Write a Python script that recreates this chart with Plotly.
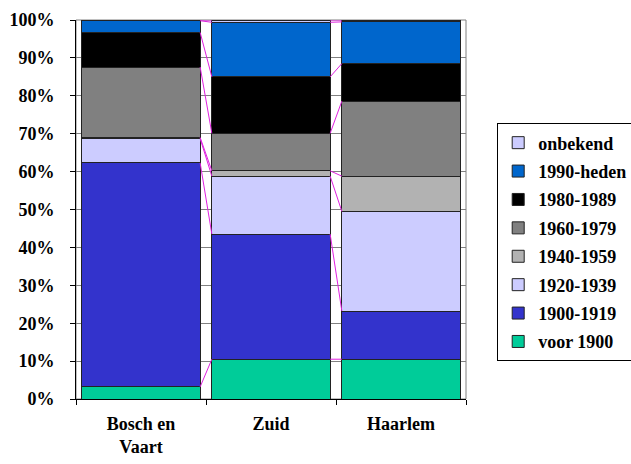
import plotly.graph_objects as go

# Districts
categories = ["Bosch en<br>Vaart", "Zuid", "Haarlem"]

# Share of dwellings per construction period (percent of each district)
periods = ["voor 1900", "1900-1919", "1920-1939", "1940-1959",
           "1960-1979", "1980-1989", "1990-heden", "onbekend"]
voor_1900 = [3.2, 10.5, 10.5]
p1900_1919 = [59.1, 33.0, 12.7]
p1920_1939 = [6.4, 15.3, 26.3]
p1940_1959 = [0.3, 1.4, 9.3]
p1960_1979 = [18.6, 9.9, 19.8]
p1980_1989 = [9.1, 14.9, 9.9]
p1990_heden = [3.1, 14.4, 11.0]
onbekend = [0.2, 0.6, 0.5]

series_values = [voor_1900, p1900_1919, p1920_1939, p1940_1959,
                 p1960_1979, p1980_1989, p1990_heden, onbekend]
colors = ["#00CC99", "#3333CC", "#CCCCFF", "#B2B2B2",
          "#808080", "#000000", "#0066CC", "#CCCCFF"]

y_ticks = [0, 10, 20, 30, 40, 50, 60, 70, 80, 90, 100]
y_tick_labels = ["0%", "10%", "20%", "30%", "40%", "50%",
                 "60%", "70%", "80%", "90%", "100%"]

BARGAP = 0.09
FONT = "'Times New Roman', 'Liberation Serif', 'DejaVu Serif', serif"

fig = go.Figure()

n = len(periods)
for k, (name, vals, col) in enumerate(zip(periods, series_values, colors)):
    fig.add_trace(go.Bar(
        x=categories, y=vals, name=name,
        marker=dict(color=col, line=dict(color="#222222", width=1)),
        legendgroup=name, legendrank=n - k,
    ))

# Series lines joining the top of each segment across neighbouring columns
half = (1 - BARGAP) / 2
running = [0.0] * len(categories)
for vals in series_values:
    running = [r + v for r, v in zip(running, vals)]
    xs, ys = [], []
    for i in range(len(categories) - 1):
        xs += [i + half, i + 1 - half, None]
        ys += [running[i], running[i + 1], None]
    fig.add_trace(go.Scatter(
        x=xs, y=ys, xaxis="x2", mode="lines",
        line=dict(color="#E020E0", width=1),
        showlegend=False, hoverinfo="skip",
    ))

# Plot-area frame (top and right edges)
fig.add_shape(type="rect", xref="paper", yref="paper", x0=0, x1=1, y0=0, y1=1,
              line=dict(color="#808080", width=1), layer="below")

fig.update_layout(
    width=631, height=464,
    margin=dict(l=76, r=165, t=20, b=65, autoexpand=False),
    paper_bgcolor="white", plot_bgcolor="white",
    barmode="stack", bargap=BARGAP,
    font=dict(family=FONT, size=18, color="black", weight="bold"),
    showlegend=True,
    legend=dict(
        x=1.08, y=0.727, xanchor="left", yanchor="top",
        bgcolor="white", bordercolor="black", borderwidth=1,
        traceorder="grouped", tracegroupgap=2,
        font=dict(family=FONT, size=18, color="black", weight="bold"),
    ),
    xaxis=dict(
        type="category", range=[-0.5, 2.5],
        showline=True, linecolor="black", linewidth=1,
        ticks="outside", ticklen=5, tickcolor="black", tickson="boundaries",
        showgrid=False, zeroline=False, ticklabelstandoff=8,
    ),
    xaxis2=dict(
        overlaying="x", range=[-0.5, 2.5], visible=False,
    ),
    yaxis=dict(
        range=[0, 100], tickmode="array", tickvals=y_ticks, ticktext=y_tick_labels,
        showline=True, linecolor="black", linewidth=1,
        ticks="outside", ticklen=5, tickcolor="black",
        showgrid=True, gridcolor="#808080", gridwidth=1,
        zeroline=False, ticklabelstandoff=12,
    ),
)

fig.write_html("out.html")
